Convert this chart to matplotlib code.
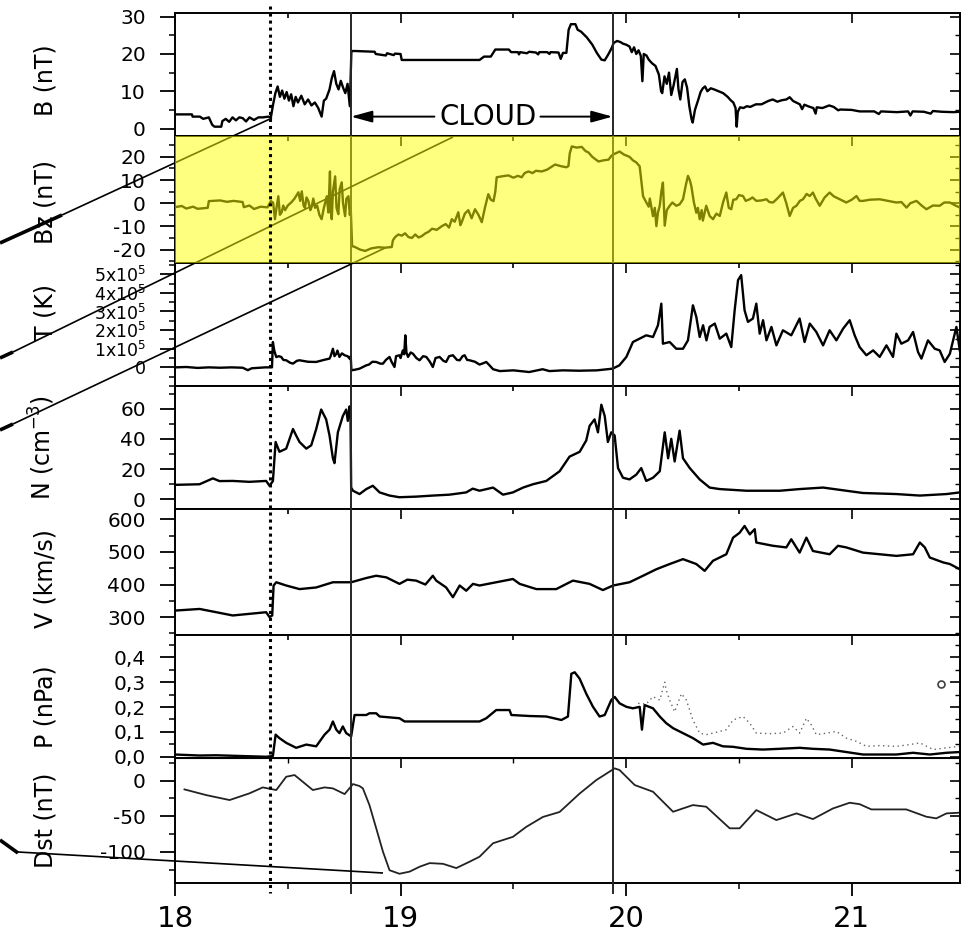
import matplotlib
matplotlib.use('Agg')
import matplotlib.pyplot as plt
import numpy as np
from matplotlib.lines import Line2D
from matplotlib.patches import Rectangle
from matplotlib.ticker import MultipleLocator
from matplotlib.transforms import blended_transform_factory

plt.rcParams['font.family'] = ['DejaVu Sans']

########################################################################################################################
# Data (time in days of the month)
########################################################################################################################

# event markers: shock (dotted), cloud start and cloud end (solid)
t_shock = 18.42
t_cloud_start = 18.78
t_cloud_end = 19.94

b_data = [
    (18.000, 3.8), (18.075, 3.8), (18.078, 3.2), (18.110, 3.2), (18.125, 2.6), (18.150, 3.0), (18.165, 1.0),
    (18.175, 0.5), (18.205, 0.5), (18.210, 2.0), (18.225, 2.6), (18.240, 1.8), (18.255, 3.0), (18.270, 2.2),
    (18.285, 3.0), (18.300, 2.8), (18.315, 1.9), (18.330, 3.0), (18.350, 2.3), (18.370, 3.0), (18.390, 3.0),
    (18.415, 3.2), (18.425, 3.0), (18.435, 6.5), (18.445, 9.5), (18.455, 11.3), (18.465, 8.5), (18.475, 10.2),
    (18.485, 8.0), (18.495, 9.8), (18.505, 7.5), (18.515, 9.2), (18.525, 6.0), (18.535, 8.5), (18.545, 7.0),
    (18.560, 8.8), (18.575, 6.5), (18.590, 7.8), (18.605, 6.2), (18.620, 7.0), (18.635, 5.5), (18.650, 3.2),
    (18.660, 7.5), (18.670, 8.0), (18.685, 10.5), (18.695, 13.5), (18.705, 15.4), (18.715, 12.0), (18.725, 10.5),
    (18.735, 12.8), (18.745, 11.0), (18.755, 9.5), (18.765, 12.0), (18.775, 6.0), (18.782, 20.8), (18.800, 20.8),
    (18.885, 20.6), (18.890, 20.0), (18.935, 19.6), (18.940, 20.2), (18.970, 19.7), (18.975, 20.1), (19.000, 20.0),
    (19.005, 18.4), (19.350, 18.4), (19.370, 19.3), (19.400, 19.3), (19.420, 21.2), (19.480, 21.2), (19.490, 20.5),
    (19.520, 20.5), (19.525, 19.9), (19.530, 20.5), (19.560, 20.2), (19.570, 20.6), (19.600, 20.4), (19.610, 19.9),
    (19.615, 20.5), (19.650, 20.5), (19.660, 20.0), (19.665, 20.5), (19.700, 20.4), (19.710, 18.7), (19.720, 20.3),
    (19.735, 20.3), (19.745, 26.5), (19.755, 28.0), (19.775, 28.0), (19.785, 26.5), (19.800, 26.0), (19.825, 24.5),
    (19.850, 22.5), (19.870, 20.3), (19.890, 18.5), (19.905, 18.3), (19.920, 19.8), (19.935, 21.5), (19.945, 23.0),
    (19.960, 23.5), (19.975, 23.2), (19.985, 22.8), (20.000, 22.5), (20.015, 22.0), (20.025, 20.5), (20.035, 21.8),
    (20.045, 20.0), (20.055, 21.0), (20.065, 19.5), (20.072, 12.7), (20.078, 20.0), (20.090, 19.6), (20.100, 18.5),
    (20.115, 17.5), (20.130, 16.8), (20.145, 14.5), (20.155, 10.0), (20.160, 9.5), (20.170, 14.0), (20.180, 12.0),
    (20.190, 15.0), (20.200, 9.0), (20.210, 11.5), (20.220, 14.5), (20.225, 16.0), (20.232, 10.5), (20.240, 7.8),
    (20.250, 12.5), (20.260, 13.2), (20.270, 11.0), (20.280, 6.0), (20.290, 2.5), (20.295, 1.6), (20.305, 5.0),
    (20.320, 7.8), (20.330, 9.8), (20.340, 10.8), (20.350, 11.3), (20.360, 10.0), (20.375, 10.8), (20.390, 10.5),
    (20.410, 10.0), (20.430, 9.5), (20.450, 8.5), (20.465, 7.5), (20.475, 7.0), (20.485, 5.5), (20.490, 0.5),
    (20.495, 4.5), (20.505, 5.7), (20.520, 5.5), (20.535, 6.0), (20.550, 5.8), (20.575, 6.5), (20.600, 6.5),
    (20.630, 7.4), (20.650, 7.8), (20.670, 7.2), (20.690, 7.6), (20.710, 7.8), (20.725, 8.4), (20.740, 7.4),
    (20.770, 6.5), (20.780, 5.2), (20.790, 6.4), (20.810, 5.9), (20.830, 5.5), (20.840, 4.0), (20.845, 5.7),
    (20.870, 5.5), (20.900, 6.2), (20.920, 5.8), (20.940, 4.9), (20.950, 5.1), (21.000, 5.0), (21.035, 4.6),
    (21.100, 4.6), (21.120, 3.9), (21.130, 4.6), (21.200, 4.4), (21.250, 4.6), (21.260, 3.5), (21.270, 4.6),
    (21.320, 4.5), (21.350, 4.0), (21.360, 4.7), (21.400, 4.5), (21.450, 4.4), (21.480, 4.5),
]

bz_data = [
    (18.000, -1.7), (18.030, -1.2), (18.050, -2.3), (18.080, -1.5), (18.100, -2.4), (18.145, -2.0), (18.150, 0.9),
    (18.200, 1.2), (18.230, 0.6), (18.260, 1.0), (18.300, 0.5), (18.305, -1.7), (18.330, -1.0), (18.350, -2.5),
    (18.380, -1.5), (18.410, -1.8), (18.425, 0.9), (18.435, 0.2), (18.443, -6.9), (18.450, -2.0), (18.458, 3.0),
    (18.465, -5.0), (18.473, -3.9), (18.480, -1.0), (18.488, -3.0), (18.500, -1.0), (18.517, 0.5), (18.530, 2.0),
    (18.547, 4.7), (18.555, 1.0), (18.562, 5.1), (18.570, -1.0), (18.576, -2.0), (18.583, 2.5), (18.591, 1.0),
    (18.600, -3.0), (18.606, -1.5), (18.613, 2.0), (18.621, -2.0), (18.630, -1.0), (18.640, -5.0), (18.650, -6.9),
    (18.660, -2.0), (18.673, 3.0), (18.680, -4.0), (18.687, 13.7), (18.690, -3.0), (18.695, -6.9), (18.700, 5.0),
    (18.710, 11.6), (18.716, -2.0), (18.724, -4.7), (18.730, 6.0), (18.739, 9.0), (18.745, 0.0), (18.754, -5.6),
    (18.760, 2.0), (18.769, 3.0), (18.775, -5.0), (18.779, -2.0), (18.785, -18.5), (18.798, -18.9), (18.820, -20.0),
    (18.843, -20.6), (18.870, -19.5), (18.900, -19.0), (18.930, -19.2), (18.961, -18.9), (18.966, -16.0),
    (18.976, -14.6), (18.990, -13.5), (19.005, -14.0), (19.020, -13.0), (19.035, -14.6), (19.050, -15.0),
    (19.065, -13.5), (19.080, -14.8), (19.094, -14.2), (19.110, -13.0), (19.123, -12.4), (19.140, -11.0),
    (19.160, -11.5), (19.183, -9.9), (19.200, -9.0), (19.215, -10.5), (19.227, -6.9), (19.240, -8.0),
    (19.256, -3.9), (19.265, -9.5), (19.271, -8.2), (19.285, -4.5), (19.300, -3.0), (19.315, -6.5), (19.330, -2.6),
    (19.345, -5.0), (19.360, -8.2), (19.375, -1.5), (19.389, 3.9), (19.400, 1.5), (19.412, 0.9), (19.420, 5.0),
    (19.426, 11.2), (19.450, 11.6), (19.478, 12.0), (19.500, 11.0), (19.520, 11.8), (19.537, 11.2), (19.550, 13.0),
    (19.567, 13.7), (19.585, 13.0), (19.600, 14.0), (19.626, 13.7), (19.650, 14.5), (19.685, 16.7), (19.710, 16.0),
    (19.735, 15.5), (19.744, 16.0), (19.750, 21.5), (19.759, 24.5), (19.780, 24.0), (19.803, 24.3), (19.820, 22.5),
    (19.833, 21.9), (19.850, 20.0), (19.877, 18.0), (19.900, 18.5), (19.922, 18.8), (19.935, 20.5), (19.942, 21.0),
    (19.971, 22.3), (19.990, 21.0), (20.015, 20.0), (20.030, 18.5), (20.045, 17.6), (20.060, 15.9), (20.068, 9.0),
    (20.075, 3.0), (20.089, 0.4), (20.100, -1.5), (20.105, 2.0), (20.119, -5.6), (20.127, -2.0), (20.134, -9.9),
    (20.141, -4.0), (20.149, -1.1), (20.156, 5.0), (20.163, 8.9), (20.171, -9.7), (20.180, -3.0), (20.193, -1.1),
    (20.205, 0.3), (20.222, -1.1), (20.237, -0.5), (20.252, 1.7), (20.265, 8.0), (20.274, 11.8), (20.282, 10.0),
    (20.289, 7.4), (20.300, 0.5), (20.311, -4.1), (20.318, -2.0), (20.326, -6.9), (20.335, -3.0), (20.340, -7.5),
    (20.355, -1.1), (20.370, -5.5), (20.385, -6.9), (20.400, -4.5), (20.415, -5.5), (20.430, 0.5), (20.444, 4.6),
    (20.455, -2.0), (20.466, -2.6), (20.475, 1.5), (20.488, 1.7), (20.500, 3.5), (20.518, 3.1), (20.530, 1.0),
    (20.548, 1.7), (20.560, 2.5), (20.577, 1.0), (20.600, 1.2), (20.622, 1.7), (20.635, 0.5), (20.651, 0.3),
    (20.670, 2.0), (20.695, 4.6), (20.710, 0.0), (20.725, -5.5), (20.740, -2.0), (20.755, -1.1), (20.770, 1.0),
    (20.784, 1.7), (20.800, 4.0), (20.814, 3.1), (20.828, 4.6), (20.840, 2.0), (20.858, -1.1), (20.880, 2.5),
    (20.902, 4.6), (20.920, 3.0), (20.947, 1.7), (20.976, 0.3), (21.000, 1.5), (21.021, 3.1), (21.035, 1.0),
    (21.050, 1.0), (21.080, 1.5), (21.124, 1.7), (21.160, 1.0), (21.198, 0.3), (21.220, 0.5), (21.243, -1.9),
    (21.260, 0.0), (21.287, 1.0), (21.310, -1.0), (21.331, -2.6), (21.360, -1.0), (21.390, -1.1), (21.410, 0.3),
    (21.435, 0.3), (21.460, -1.0), (21.480, -1.9),
]

# proton temperature, in units of 1e5 K
t_data = [
    (18.000, 0.00), (18.050, 0.02), (18.100, -0.03), (18.150, 0.00), (18.200, -0.02), (18.250, 0.00),
    (18.300, -0.02), (18.323, -0.15), (18.340, -0.05), (18.400, 0.00), (18.430, 0.00), (18.434, 1.36),
    (18.440, 0.90), (18.449, 0.55), (18.460, 0.60), (18.471, 0.56), (18.480, 0.40), (18.493, 0.38), (18.510, 0.25),
    (18.523, 0.20), (18.540, 0.35), (18.552, 0.38), (18.590, 0.30), (18.626, 0.29), (18.660, 0.40), (18.685, 0.47),
    (18.690, 0.60), (18.700, 1.00), (18.707, 0.60), (18.715, 0.73), (18.720, 0.90), (18.729, 0.56), (18.740, 0.75),
    (18.752, 0.65), (18.765, 0.60), (18.774, 0.47), (18.779, 0.60), (18.782, -0.16), (18.800, -0.12),
    (18.818, -0.07), (18.830, 0.00), (18.848, 0.11), (18.860, 0.15), (18.875, 0.30), (18.892, 0.29), (18.910, 0.20),
    (18.922, 0.20), (18.935, 0.40), (18.951, 0.56), (18.960, 0.30), (18.973, 0.02), (18.980, 0.60), (18.995, 0.65),
    (19.000, 0.50), (19.010, 0.91), (19.016, 0.70), (19.021, 1.72), (19.026, 0.80), (19.033, 0.56), (19.045, 0.80),
    (19.055, 0.73), (19.070, 0.50), (19.084, 0.38), (19.100, 0.60), (19.114, 0.56), (19.130, 0.30), (19.143, 0.02),
    (19.155, 0.50), (19.173, 0.56), (19.190, 0.35), (19.202, 0.29), (19.215, 0.60), (19.232, 0.65), (19.250, 0.40),
    (19.262, 0.38), (19.275, 0.60), (19.284, 0.65), (19.295, 0.40), (19.306, 0.38), (19.330, 0.30), (19.350, 0.15),
    (19.366, 0.22), (19.380, 0.29), (19.395, 0.10), (19.410, -0.10), (19.440, -0.20), (19.500, -0.16),
    (19.570, -0.25), (19.630, -0.10), (19.660, -0.20), (19.720, -0.16), (19.790, -0.18), (19.870, -0.16),
    (19.940, -0.07), (19.970, 0.11), (20.001, 0.56), (20.030, 1.36), (20.060, 1.54), (20.089, 1.72),
    (20.119, 1.63), (20.141, 2.26), (20.156, 3.42), (20.163, 1.27), (20.193, 1.36), (20.222, 1.00), (20.252, 1.00),
    (20.274, 1.45), (20.296, 3.33), (20.311, 2.71), (20.326, 1.63), (20.341, 2.26), (20.356, 1.45), (20.370, 2.17),
    (20.393, 2.35), (20.415, 1.54), (20.444, 1.81), (20.466, 1.09), (20.481, 3.06), (20.496, 4.68), (20.510, 4.95),
    (20.525, 3.06), (20.540, 2.44), (20.562, 2.62), (20.577, 3.42), (20.592, 1.81), (20.607, 2.53), (20.622, 1.45),
    (20.644, 2.17), (20.666, 1.18), (20.695, 1.99), (20.732, 1.72), (20.769, 2.62), (20.791, 1.36), (20.814, 2.35),
    (20.843, 1.90), (20.873, 1.18), (20.902, 1.99), (20.932, 1.45), (20.962, 2.08), (20.991, 2.53), (21.013, 1.72),
    (21.035, 1.09), (21.065, 0.65), (21.095, 0.91), (21.124, 0.56), (21.154, 1.18), (21.183, 0.56), (21.198, 1.81),
    (21.220, 1.27), (21.250, 1.45), (21.272, 1.90), (21.294, 0.82), (21.309, 0.47), (21.338, 1.45), (21.368, 1.00),
    (21.390, 0.91), (21.412, 0.29), (21.435, 0.73), (21.464, 2.17), (21.479, 0.91),
]

n_data = [
    (18.000, 9.5), (18.109, 9.9), (18.168, 13.8), (18.197, 12.0), (18.256, 12.1), (18.330, 11.5), (18.404, 12.1),
    (18.419, 8.9), (18.434, 12.0), (18.446, 37.9), (18.463, 31.4), (18.493, 33.5), (18.508, 40.0), (18.523, 46.5),
    (18.537, 42.2), (18.552, 37.9), (18.582, 33.5), (18.604, 35.7), (18.626, 46.5), (18.648, 59.4), (18.670, 52.9),
    (18.685, 42.2), (18.700, 27.1), (18.707, 23.9), (18.722, 44.3), (18.744, 55.1), (18.759, 59.4), (18.766, 51.9),
    (18.774, 61.5), (18.778, 55.0), (18.781, 7.7), (18.789, 5.6), (18.818, 3.4), (18.848, 6.7), (18.877, 8.9),
    (18.907, 4.5), (18.951, 2.4), (18.995, 1.3), (19.069, 1.7), (19.143, 2.4), (19.217, 3.0), (19.291, 4.5),
    (19.320, 7.0), (19.350, 5.6), (19.410, 7.7), (19.454, 3.0), (19.498, 4.5), (19.543, 7.7), (19.587, 9.9),
    (19.646, 12.1), (19.705, 18.5), (19.749, 28.2), (19.794, 31.4), (19.823, 38.9), (19.838, 48.6), (19.860, 52.9),
    (19.875, 44.3), (19.890, 62.6), (19.905, 55.1), (19.919, 37.9), (19.934, 44.3), (19.949, 42.2), (19.964, 20.6),
    (19.986, 14.2), (20.015, 13.1), (20.045, 16.3), (20.067, 20.6), (20.089, 12.1), (20.119, 14.2), (20.149, 18.5),
    (20.171, 44.3), (20.186, 27.1), (20.200, 40.0), (20.215, 25.0), (20.237, 45.4), (20.252, 27.1), (20.282, 20.6),
    (20.326, 13.1), (20.370, 7.7), (20.415, 6.7), (20.533, 5.6), (20.681, 5.6), (20.769, 6.7), (20.873, 7.7),
    (20.976, 5.6), (21.050, 4.1), (21.198, 3.4), (21.302, 2.4), (21.420, 3.4), (21.479, 4.5),
]

v_data = [
    (18.000, 320), (18.109, 325), (18.183, 315), (18.256, 305), (18.330, 310), (18.404, 315), (18.419, 300),
    (18.431, 305), (18.437, 397), (18.449, 407), (18.493, 397), (18.552, 386), (18.626, 391), (18.700, 407),
    (18.781, 407), (18.848, 420), (18.892, 427), (18.937, 422), (18.995, 402), (19.030, 415), (19.069, 412),
    (19.110, 400), (19.143, 427), (19.158, 412), (19.202, 391), (19.232, 361), (19.262, 397), (19.291, 381),
    (19.321, 402), (19.350, 397), (19.424, 407), (19.498, 417), (19.528, 402), (19.602, 386), (19.690, 386),
    (19.764, 412), (19.838, 402), (19.897, 383), (19.942, 397), (20.015, 407), (20.075, 427), (20.134, 447),
    (20.193, 463), (20.252, 478), (20.311, 463), (20.348, 442), (20.385, 473), (20.444, 493), (20.474, 544),
    (20.503, 559), (20.525, 580), (20.548, 554), (20.570, 570), (20.577, 529), (20.651, 519), (20.710, 514),
    (20.732, 539), (20.769, 498), (20.799, 544), (20.828, 503), (20.902, 493), (20.939, 519), (20.976, 514),
    (21.050, 498), (21.124, 493), (21.198, 488), (21.272, 493), (21.302, 529), (21.324, 514), (21.346, 483),
    (21.405, 468), (21.435, 463), (21.479, 447),
]

p_data = [
    (18.000, 0.009), (18.109, 0.005), (18.183, 0.006), (18.404, 0.000), (18.434, 0.003), (18.446, 0.089),
    (18.463, 0.075), (18.493, 0.056), (18.537, 0.036), (18.582, 0.049), (18.626, 0.042), (18.663, 0.089),
    (18.685, 0.109), (18.700, 0.142), (18.715, 0.109), (18.729, 0.095), (18.744, 0.122), (18.759, 0.095),
    (18.781, 0.082), (18.796, 0.168), (18.848, 0.168), (18.862, 0.175), (18.892, 0.175), (18.907, 0.162),
    (18.995, 0.155), (19.018, 0.142), (19.350, 0.142), (19.380, 0.155), (19.424, 0.188), (19.483, 0.188),
    (19.491, 0.168), (19.572, 0.164), (19.646, 0.162), (19.713, 0.148), (19.742, 0.162), (19.757, 0.334),
    (19.772, 0.340), (19.794, 0.314), (19.823, 0.254), (19.853, 0.201), (19.882, 0.162), (19.905, 0.168),
    (19.934, 0.228), (19.949, 0.241), (19.971, 0.215), (20.001, 0.201), (20.030, 0.195), (20.060, 0.201),
    (20.070, 0.109), (20.082, 0.208), (20.119, 0.195), (20.149, 0.162), (20.178, 0.135), (20.208, 0.115),
    (20.252, 0.095), (20.296, 0.075), (20.341, 0.049), (20.385, 0.056), (20.429, 0.042), (20.474, 0.040),
    (20.533, 0.032), (20.607, 0.029), (20.681, 0.032), (20.769, 0.036), (20.828, 0.032), (20.902, 0.029),
    (20.976, 0.019), (21.050, 0.009), (21.198, 0.009), (21.272, 0.016), (21.346, 0.009), (21.420, 0.016),
    (21.479, 0.019),
]

# second pressure estimate, only available after the cloud
p2_data = [
    (20.053, 0.215), (20.089, 0.212), (20.119, 0.242), (20.149, 0.228), (20.171, 0.300), (20.178, 0.267),
    (20.193, 0.228), (20.215, 0.181), (20.245, 0.254), (20.267, 0.228), (20.296, 0.148), (20.326, 0.095),
    (20.355, 0.089), (20.385, 0.095), (20.444, 0.109), (20.474, 0.148), (20.518, 0.162), (20.548, 0.135),
    (20.577, 0.095), (20.636, 0.093), (20.695, 0.095), (20.740, 0.122), (20.769, 0.095), (20.799, 0.155),
    (20.821, 0.128), (20.843, 0.089), (20.888, 0.095), (20.932, 0.102), (20.976, 0.075), (21.021, 0.062),
    (21.065, 0.042), (21.124, 0.045), (21.198, 0.042), (21.257, 0.049), (21.302, 0.056), (21.361, 0.029),
    (21.420, 0.036), (21.479, 0.042),
]
p_marker = [(21.397, 0.294)]

dst_data = [
    (18.042, -12.2), (18.138, -20.2), (18.242, -27.2), (18.330, -17.8), (18.389, -9.4), (18.449, -13.1),
    (18.493, 5.6), (18.530, 8.0), (18.611, -13.1), (18.663, -9.4), (18.700, -10.8), (18.752, -18.8),
    (18.789, -4.7), (18.818, -7.5), (18.833, -10.8), (18.862, -34.3), (18.892, -67.0), (18.922, -100.0),
    (18.951, -126.0), (18.995, -131.0), (19.040, -128.0), (19.085, -121.0), (19.129, -116.0), (19.188, -117.0),
    (19.247, -123.0), (19.306, -114.0), (19.350, -107.0), (19.410, -88.0), (19.498, -79.0), (19.557, -65.0),
    (19.631, -51.0), (19.705, -44.0), (19.794, -18.0), (19.868, 1.0), (19.949, 17.4), (19.971, 15.0),
    (20.038, -6.1), (20.119, -15.5), (20.208, -43.7), (20.296, -34.3), (20.355, -36.6), (20.459, -67.0),
    (20.503, -67.0), (20.577, -41.3), (20.666, -55.4), (20.755, -46.0), (20.828, -54.0), (20.917, -39.0),
    (20.991, -31.0), (21.035, -33.0), (21.087, -40.4), (21.242, -40.4), (21.331, -50.7), (21.375, -53.0),
    (21.420, -46.0), (21.479, -45.0),
]

x_ticks = [18, 19, 20, 21]
x_ticklabels = ['18', '19', '20', '21']

b_ticks = [0, 10, 20, 30]
bz_ticks = [-20, -10, 0, 10, 20]
t_ticks = [0, 1, 2, 3, 4, 5]
t_ticklabels = ['0'] + ['%dx10$^5$' % k for k in range(1, 6)]
n_ticks = [0, 20, 40, 60]
v_ticks = [300, 400, 500, 600]
p_ticks = [0.0, 0.1, 0.2, 0.3, 0.4]
p_ticklabels = [('%.1f' % v).replace('.', ',') for v in p_ticks]
dst_ticks = [-100, -50, 0]

########################################################################################################################
# Layout
########################################################################################################################

W, H = 961, 933
fig = plt.figure(figsize=(W / 100, H / 100), dpi=100)

left_px, right_px = 175, 960
panel_px = [(13, 136), (136, 263), (263, 386), (386, 509), (509, 635), (635, 758), (758, 883)]

panels = [
    # label, ylim, ticks, ticklabels, minor step, label y, tick label size
    ('B (nT)', (-2, 31), b_ticks, [str(t) for t in b_ticks], 5, 0.45, 14.5),
    ('Bz (nT)', (-25.8, 29), bz_ticks, [str(t) for t in bz_ticks], 5, 0.48, 14.5),
    ('T (K)', (-1.0, 5.6), t_ticks, t_ticklabels, 0.5, 0.6, 12.5),
    ('N (cm$^{-3}$)', (-6.5, 75), n_ticks, [str(t) for t in n_ticks], 10, 0.5, 14.5),
    ('V (km/s)', (245, 632), v_ticks, [str(t) for t in v_ticks], 50, 0.45, 14.5),
    ('P (nPa)', (-0.005, 0.49), p_ticks, p_ticklabels, 0.05, 0.42, 14.5),
    ('Dst (nT)', (-144, 32), dst_ticks, [str(t) for t in dst_ticks], 25, 0.5, 14.5),
]
series = [b_data, bz_data, t_data, n_data, v_data, p_data, dst_data]

axes = []
for i, ((top, bot), (label, ylim, ticks, labels, minor, label_y, tsize), data) in enumerate(
        zip(panel_px, panels, series)):
    ax = fig.add_axes([left_px / W, 1 - bot / H, (right_px - left_px) / W, (bot - top) / H])
    arr = np.array(data)
    if i == 6:
        ax.plot(arr[:, 0], arr[:, 1], color='#222222', lw=1.3)
    else:
        ax.plot(arr[:, 0], arr[:, 1], color='black', lw=1.7)
    ax.set_xlim(18, 21.48)
    ax.set_ylim(*ylim)
    for s in ax.spines.values():
        s.set_linewidth(1.4)

    ax.set_yticks(ticks)
    ax.set_yticklabels(labels)
    ax.yaxis.set_minor_locator(MultipleLocator(minor))
    ax.tick_params(axis='y', which='major', direction='out', length=11, width=1.3, pad=10, labelsize=tsize)
    ax.tick_params(axis='y', which='minor', direction='out', length=4.5, width=1.1)
    right = ax.secondary_yaxis('right')
    right.set_yticks(ticks)
    right.yaxis.set_minor_locator(MultipleLocator(minor))
    right.tick_params(which='major', direction='in', length=7, width=1.2, labelright=False)
    right.tick_params(which='minor', direction='in', length=3.5, width=1.0)

    ax.set_xticks(x_ticks)
    ax.xaxis.set_minor_locator(MultipleLocator(0.5))
    if i < 6:
        ax.tick_params(axis='x', which='both', top=True, bottom=False, direction='in',
                       labelbottom=False, width=1.2)
        ax.tick_params(axis='x', which='major', length=7)
        ax.tick_params(axis='x', which='minor', length=3.5)
    else:
        ax.set_xticklabels(x_ticklabels)
        ax.tick_params(axis='x', which='major', direction='out', length=9, width=1.3, pad=7, labelsize=21)
        ax.tick_params(axis='x', which='minor', direction='out', length=4, width=1.1)
        top_ax = ax.secondary_xaxis('top')
        top_ax.set_xticks(x_ticks)
        top_ax.xaxis.set_minor_locator(MultipleLocator(0.5))
        top_ax.tick_params(which='major', direction='in', length=7, width=1.2, labeltop=False)
        top_ax.tick_params(which='minor', direction='in', length=3.5, width=1.0)

    ax.set_ylabel(label, fontsize=17)
    ax.yaxis.set_label_coords(-0.150, label_y)
    axes.append(ax)

ax_b, ax_bz, ax_t, ax_n, ax_v, ax_p, ax_dst = axes

# second pressure curve and isolated point
p2 = np.array(p2_data)
ax_p.plot(p2[:, 0], p2[:, 1], color='0.4', lw=1.0, ls=(0, (1, 2.5)))
pm = np.array(p_marker)
ax_p.plot(pm[:, 0], pm[:, 1], 'o', mfc='none', mec='0.25', ms=5, mew=1.2)

# cloud interval annotation
cloud_y = 3.2
ax_b.text((t_cloud_start + t_cloud_end) / 2 + 0.03, cloud_y, 'CLOUD', ha='center', va='center', fontsize=20)
arrow = dict(arrowstyle='-|>,head_length=0.8,head_width=0.22', color='black', lw=1.4,
             mutation_scale=16, shrinkA=0, shrinkB=0)
ax_b.annotate('', xy=(t_cloud_start, cloud_y), xytext=(19.15, cloud_y), arrowprops=arrow)
ax_b.annotate('', xy=(t_cloud_end, cloud_y), xytext=(19.62, cloud_y), arrowprops=arrow)

# event lines across all panels
trans = blended_transform_factory(ax_dst.transData, fig.transFigure)
for t in (t_cloud_start, t_cloud_end):
    fig.add_artist(Line2D([t, t], [1 - 13 / H, 1 - 893 / H], transform=trans, color='0.15', lw=1.4, zorder=1))

# leader lines running in from the left margin (pixel coordinates)
leader_segments = [
    ((0, 243), (62, 215), 2.6), ((62, 215), (272, 118), 1.2),
    ((0, 358), (13, 352), 2.6), ((13, 352), (453, 137), 1.2),
    ((0, 430), (13, 424), 2.6), ((13, 424), (385, 248), 1.2),
    ((0, 840), (18, 853), 2.6), ((18, 852), (383, 873), 1.2),
]
for (x0, y0), (x1, y1), lw in leader_segments:
    fig.add_artist(Line2D([x0 / W, x1 / W], [1 - y0 / H, 1 - y1 / H], transform=fig.transFigure,
                          color='black', lw=lw, zorder=1.5, solid_capstyle='butt'))

# translucent yellow band over the Bz panel
top, bot = panel_px[1]
fig.add_artist(Rectangle((left_px / W, 1 - bot / H), (right_px - left_px) / W, (bot - top) / H,
                         transform=fig.transFigure, facecolor='yellow', edgecolor='none', alpha=0.5, zorder=2))

# shock line drawn on top
fig.add_artist(Line2D([t_shock, t_shock], [1 - 6 / H, 1 - 893 / H], transform=trans, color='black', lw=2.2,
                      ls=(0, (1, 1.3)), zorder=3))

fig.savefig('out.png', dpi=100)
